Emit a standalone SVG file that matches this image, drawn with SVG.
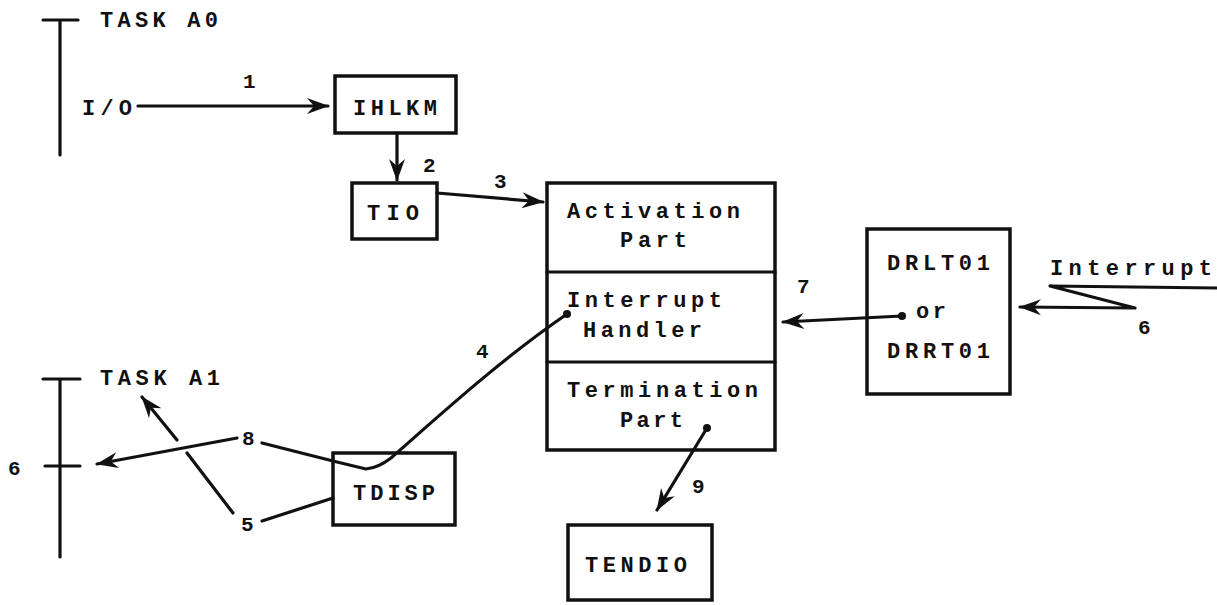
<svg xmlns="http://www.w3.org/2000/svg" width="1217" height="605" viewBox="0 0 1217 605">
<style>
  .box{fill:none;stroke:#111;stroke-width:3.5}
  .ln{fill:none;stroke:#111;stroke-width:3.2;stroke-linecap:round;stroke-linejoin:round}
  .t{font-family:"Liberation Mono","DejaVu Sans Mono",monospace;font-weight:bold;font-size:22px;fill:#111}
  .n{font-family:"Liberation Mono","DejaVu Sans Mono",monospace;font-weight:bold;font-size:21px;fill:#111}
  .dot{fill:#111}
</style>
<defs>
  <marker id="ah" markerUnits="userSpaceOnUse" viewBox="-24 -10 26 20" refX="0" refY="0" markerWidth="26" markerHeight="20" orient="auto">
    <path d="M1,0 L-21,-8 L-14,0 L-21,8 Z" fill="#111"/>
  </marker>
</defs>
<rect width="1217" height="605" fill="#fff"/>

<g id="taskA0">
  <path class="ln" d="M60,20 L60,155 M43,20 L78,20"/>
  <text class="t" x="100" y="27" textLength="118" lengthAdjust="spacing">TASK A0</text>
  <text class="t" x="82" y="115" textLength="50" lengthAdjust="spacing">I/O</text>
</g>

<g id="taskA1">
  <path class="ln" d="M60,379 L60,557 M43,379 L80,379 M45,466 L80,466"/>
  <text class="t" x="100" y="385" textLength="120" lengthAdjust="spacing">TASK A1</text>
</g>

<g id="IHLKM">
  <rect class="box" x="335" y="76" width="121" height="57"/>
  <text class="t" x="353" y="115" textLength="84" lengthAdjust="spacing">IHLKM</text>
</g>

<g id="TIO">
  <rect class="box" x="352" y="183" width="85" height="56"/>
  <text class="t" x="367" y="220" textLength="52" lengthAdjust="spacing">TIO</text>
</g>

<g id="mainbox">
  <rect class="box" x="547" y="183" width="228" height="267"/>
  <path class="ln" d="M547,272 L775,272 M547,362 L775,362"/>
  <text class="t" x="567" y="218" textLength="173" lengthAdjust="spacing">Activation</text>
  <text class="t" x="620" y="247" textLength="67" lengthAdjust="spacing">Part</text>
  <text class="t" x="567" y="307" textLength="155" lengthAdjust="spacing">Interrupt</text>
  <text class="t" x="583" y="337" textLength="119" lengthAdjust="spacing">Handler</text>
  <text class="t" x="567" y="397" textLength="191" lengthAdjust="spacing">Termination</text>
  <text class="t" x="620" y="427" textLength="63" lengthAdjust="spacing">Part</text>
</g>

<g id="DRLT01">
  <rect class="box" x="867" y="229" width="143" height="165"/>
  <text class="t" x="887" y="270" textLength="103" lengthAdjust="spacing">DRLT01</text>
  <text class="t" x="916" y="318" textLength="30" lengthAdjust="spacing">or</text>
  <text class="t" x="887" y="358" textLength="103" lengthAdjust="spacing">DRRT01</text>
</g>

<g id="TDISP">
  <rect class="box" x="333" y="453" width="122" height="72"/>
  <text class="t" x="353" y="500" textLength="82" lengthAdjust="spacing">TDISP</text>
</g>

<g id="TENDIO">
  <rect class="box" x="568" y="525" width="144" height="75"/>
  <text class="t" x="585" y="572" textLength="102" lengthAdjust="spacing">TENDIO</text>
</g>

<g id="interrupt">
  <text class="t" x="1050" y="275" textLength="162" lengthAdjust="spacing">Interrupt</text>
</g>

<g id="connectors">
  <!-- 1 -->
  <path class="ln" d="M138,106 L328,106" marker-end="url(#ah)"/>
  <text class="n" x="243" y="88">1</text>
  <!-- 2 -->
  <path class="ln" d="M397,133 L397,180" marker-end="url(#ah)"/>
  <text class="n" x="423" y="172">2</text>
  <!-- 3 -->
  <path class="ln" d="M437,193 L543,202" marker-end="url(#ah)"/>
  <text class="n" x="494" y="188">3</text>
  <!-- 4 / 8 path -->
  <path class="ln" d="M262,443 L337,462 L366,469 Q378,468 391,458 C440,415 500,360 567,314"/>
  <circle class="dot" cx="567" cy="314" r="4"/>
  <text class="n" x="476" y="358">4</text>
  <!-- 8 -->
  <path class="ln" d="M237,438 L97,464" marker-end="url(#ah)"/>
  <text class="n" x="242" y="445">8</text>
  <!-- 5 -->
  <path class="ln" d="M233,513 L187,453 M177,440 L142,397" marker-end="url(#ah)"/>
  <path class="ln" d="M262,521 L333,498"/>
  <text class="n" x="241" y="531">5</text>
  <text class="n" x="8" y="475">6</text>
  <!-- 7 -->
  <path class="ln" d="M902,316 L783,322" marker-end="url(#ah)"/>
  <circle class="dot" cx="902" cy="316" r="4"/>
  <text class="n" x="797" y="293">7</text>
  <!-- interrupt 6 -->
  <path class="ln" d="M1217,288 L1050,286 L1135,308 L1020,307" marker-end="url(#ah)"/>
  <text class="n" x="1138" y="334">6</text>
  <!-- 9 -->
  <path class="ln" d="M707,428 L657,510" marker-end="url(#ah)"/>
  <circle class="dot" cx="707" cy="428" r="4"/>
  <text class="n" x="692" y="493">9</text>
</g>
</svg>
